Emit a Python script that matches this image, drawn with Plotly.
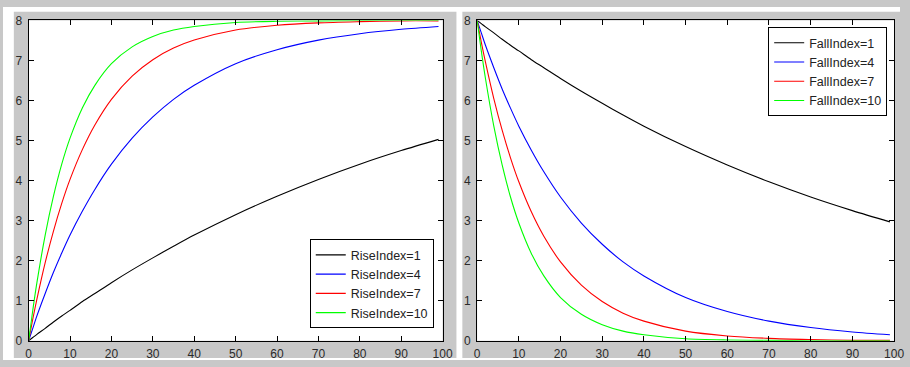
"""Rise / fall index curves, two MATLAB-style panels."""

import plotly.graph_objects as go

# sample positions along the x axis
x_vals = [0, 1, 2, 4, 6, 8, 10, 13, 16, 20, 25, 30, 35, 40, 50, 60, 70, 80, 90, 99]

# left panel
rise_1 = [0, 0.08, 0.16, 0.31, 0.47, 0.62, 0.76, 0.98, 1.18, 1.45, 1.77, 2.07, 2.36, 2.64, 3.15, 3.61, 4.03, 4.41, 4.75, 5.03]
rise_4 = [0, 0.31, 0.62, 1.18, 1.71, 2.19, 2.64, 3.24, 3.78, 4.41, 5.06, 5.59, 6.03, 6.38, 6.92, 7.27, 7.51, 7.67, 7.78, 7.85]
rise_7 = [0, 0.54, 1.04, 1.95, 2.74, 3.43, 4.03, 4.78, 5.39, 6.03, 6.61, 7.02, 7.31, 7.51, 7.76, 7.88, 7.94, 7.97, 7.99, 7.99]
rise_10 = [0, 0.76, 1.45, 2.64, 3.61, 4.41, 5.06, 5.82, 6.38, 6.92, 7.34, 7.60, 7.76, 7.85, 7.95, 7.98, 7.99, 8.00, 8.00, 8.00]

# right panel
fall_1 = [8.00, 7.92, 7.84, 7.69, 7.53, 7.38, 7.24, 7.02, 6.82, 6.55, 6.23, 5.93, 5.64, 5.36, 4.85, 4.39, 3.97, 3.59, 3.25, 2.97]
fall_4 = [8.00, 7.69, 7.38, 6.82, 6.29, 5.81, 5.36, 4.76, 4.22, 3.59, 2.94, 2.41, 1.97, 1.62, 1.08, 0.73, 0.49, 0.33, 0.22, 0.15]
fall_7 = [8.00, 7.46, 6.96, 6.05, 5.26, 4.57, 3.97, 3.22, 2.61, 1.97, 1.39, 0.98, 0.69, 0.49, 0.24, 0.12, 0.06, 0.03, 0.01, 0.01]
fall_10 = [8.00, 7.24, 6.55, 5.36, 4.39, 3.59, 2.94, 2.18, 1.62, 1.08, 0.66, 0.40, 0.24, 0.15, 0.05, 0.02, 0.01, 0.00, 0.00, 0.00]

index_labels = ["1", "4", "7", "10"]
colors = ["#000000", "#0000ff", "#ff0000", "#00ff00"]

W, H = 910, 367
FONT = "Liberation Sans, Arial, sans-serif"
TICK_COLOR = "#2a2a2a"

fig = go.Figure()

for ys, idx, col in zip([rise_1, rise_4, rise_7, rise_10], index_labels, colors):
    fig.add_trace(
        go.Scatter(
            x=x_vals, y=ys, name=f"RiseIndex={idx}", mode="lines",
            line=dict(color=col, width=1.1, shape="spline", smoothing=0.8),
            xaxis="x", yaxis="y", legend="legend",
        )
    )

for ys, idx, col in zip([fall_1, fall_4, fall_7, fall_10], index_labels, colors):
    fig.add_trace(
        go.Scatter(
            x=x_vals, y=ys, name=f"FallIndex={idx}", mode="lines",
            line=dict(color=col, width=1.1, shape="spline", smoothing=0.8),
            xaxis="x2", yaxis="y2", legend="legend2",
        )
    )


def px_x(v):
    return v / W


def px_y(v):
    return 1 - v / H


axis_common = dict(
    showline=True, linecolor="#000000", linewidth=1, mirror="allticks",
    ticks="inside", ticklen=5, tickcolor="#000000", tickwidth=1,
    showgrid=False, zeroline=False, fixedrange=True,
    tickfont=dict(family=FONT, size=12, color=TICK_COLOR),
)

y_dom = [px_y(347), px_y(14)]
legend_common = dict(
    bgcolor="#ffffff", bordercolor="#000000", borderwidth=1,
    font=dict(family=FONT, size=12.5, color="#222222"),
    tracegroupgap=0, itemclick=False,
)

fig.update_layout(
    width=W, height=H,
    margin=dict(l=0, r=0, t=0, b=0),
    paper_bgcolor="#c8c8c8",
    plot_bgcolor="#ffffff",
    font=dict(family=FONT, size=12, color="#000000"),
    xaxis=dict(domain=[px_x(26), px_x(446)], range=[0, 100], dtick=10, anchor="y",
               ticklabelstandoff=2, **axis_common),
    yaxis=dict(domain=y_dom, range=[0, 8], dtick=1, anchor="x",
               ticklabelstandoff=3, **axis_common),
    xaxis2=dict(domain=[px_x(481), px_x(904)], range=[0, 100], dtick=10, anchor="y2",
                ticklabelstandoff=2, **axis_common),
    yaxis2=dict(domain=y_dom, range=[0, 8], dtick=1, anchor="x2",
                ticklabelstandoff=3, **axis_common),
    legend=dict(x=px_x(437), y=px_y(334), xanchor="right", yanchor="bottom", **legend_common),
    legend2=dict(x=px_x(897), y=px_y(21), xanchor="right", yanchor="top", **legend_common),
    showlegend=True,
)

# white page strips around the two gray figure windows
for x0, x1, y0, y1 in [(0, W, 0, 5), (0, 11, 0, H), (460, 466, 0, H), (0, W, 365, H)]:
    fig.add_shape(
        type="rect", xref="paper", yref="paper",
        x0=px_x(x0), x1=px_x(x1), y0=px_y(y1), y1=px_y(y0),
        fillcolor="#ffffff", line=dict(width=0), layer="below",
    )

fig.write_html(
    "out.html",
    config={"displayModeBar": False},
    post_script="document.body.style.margin='0';",
)
